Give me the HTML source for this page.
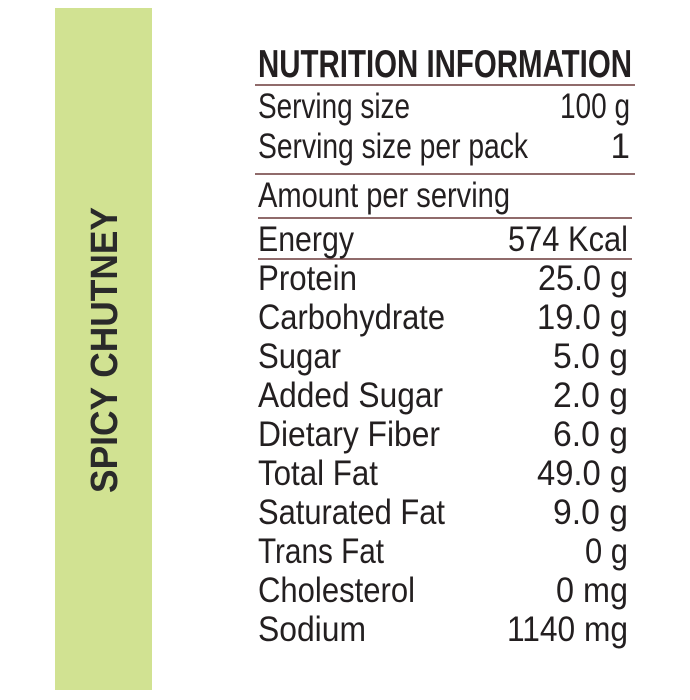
<!DOCTYPE html>
<html><head><meta charset="utf-8"><style>
html,body{margin:0;padding:0;background:#fff;width:690px;height:700px;overflow:hidden}
</style></head><body>
<svg width="690" height="700" xmlns="http://www.w3.org/2000/svg" font-family="Liberation Sans, sans-serif" fill="#231f20">
<rect x="55" y="8" width="97" height="682" fill="#d1e292"/>
<text transform="translate(117,493) rotate(-90)" font-size="38" font-weight="bold" fill="#2a2a2a" textLength="286" lengthAdjust="spacingAndGlyphs">SPICY CHUTNEY</text>
<text x="258" y="77" font-size="39" font-weight="bold" textLength="374" lengthAdjust="spacingAndGlyphs">NUTRITION INFORMATION</text>
<g stroke="#6b3a3a" stroke-width="1.5">
<line x1="255" y1="85" x2="635" y2="85"/>
<line x1="255" y1="174" x2="635" y2="174"/>
<line x1="258" y1="218" x2="632" y2="218"/>
<line x1="258" y1="259" x2="632" y2="259"/>
</g>
<g font-size="35">
<text x="258" y="118" textLength="152" lengthAdjust="spacingAndGlyphs">Serving size</text>
<text x="560" y="118" textLength="70" lengthAdjust="spacingAndGlyphs">100 g</text>
<text x="258" y="158" textLength="270" lengthAdjust="spacingAndGlyphs">Serving size per pack</text>
<text x="630" y="158" text-anchor="end">1</text>
<text x="258" y="207" textLength="252" lengthAdjust="spacingAndGlyphs">Amount per serving</text>
<text x="258" y="251" textLength="96" lengthAdjust="spacingAndGlyphs">Energy</text>
<text x="508" y="251" textLength="120" lengthAdjust="spacingAndGlyphs">574 Kcal</text>
<text x="258" y="290" textLength="99" lengthAdjust="spacingAndGlyphs">Protein</text>
<text x="538" y="290" textLength="90" lengthAdjust="spacingAndGlyphs">25.0 g</text>
<text x="258" y="329" textLength="187" lengthAdjust="spacingAndGlyphs">Carbohydrate</text>
<text x="537" y="329" textLength="91" lengthAdjust="spacingAndGlyphs">19.0  g</text>
<text x="258" y="368" textLength="83" lengthAdjust="spacingAndGlyphs">Sugar</text>
<text x="553" y="368" textLength="75" lengthAdjust="spacingAndGlyphs">5.0 g</text>
<text x="258" y="407" textLength="185" lengthAdjust="spacingAndGlyphs">Added Sugar</text>
<text x="553" y="407" textLength="75" lengthAdjust="spacingAndGlyphs">2.0 g</text>
<text x="258" y="446" textLength="182" lengthAdjust="spacingAndGlyphs">Dietary Fiber</text>
<text x="553" y="446" textLength="75" lengthAdjust="spacingAndGlyphs">6.0 g</text>
<text x="258" y="485" textLength="120" lengthAdjust="spacingAndGlyphs">Total Fat</text>
<text x="537" y="485" textLength="91" lengthAdjust="spacingAndGlyphs">49.0 g</text>
<text x="258" y="524" textLength="187" lengthAdjust="spacingAndGlyphs">Saturated Fat</text>
<text x="553" y="524" textLength="75" lengthAdjust="spacingAndGlyphs">9.0 g</text>
<text x="258" y="563" textLength="126" lengthAdjust="spacingAndGlyphs">Trans Fat</text>
<text x="585" y="563" textLength="43" lengthAdjust="spacingAndGlyphs">0 g</text>
<text x="258" y="602" textLength="157" lengthAdjust="spacingAndGlyphs">Cholesterol</text>
<text x="556" y="602" textLength="72" lengthAdjust="spacingAndGlyphs">0 mg</text>
<text x="258" y="641" textLength="108" lengthAdjust="spacingAndGlyphs">Sodium</text>
<text x="507" y="641" textLength="121" lengthAdjust="spacingAndGlyphs">1140 mg</text>
</g>
</svg>
</body></html>
